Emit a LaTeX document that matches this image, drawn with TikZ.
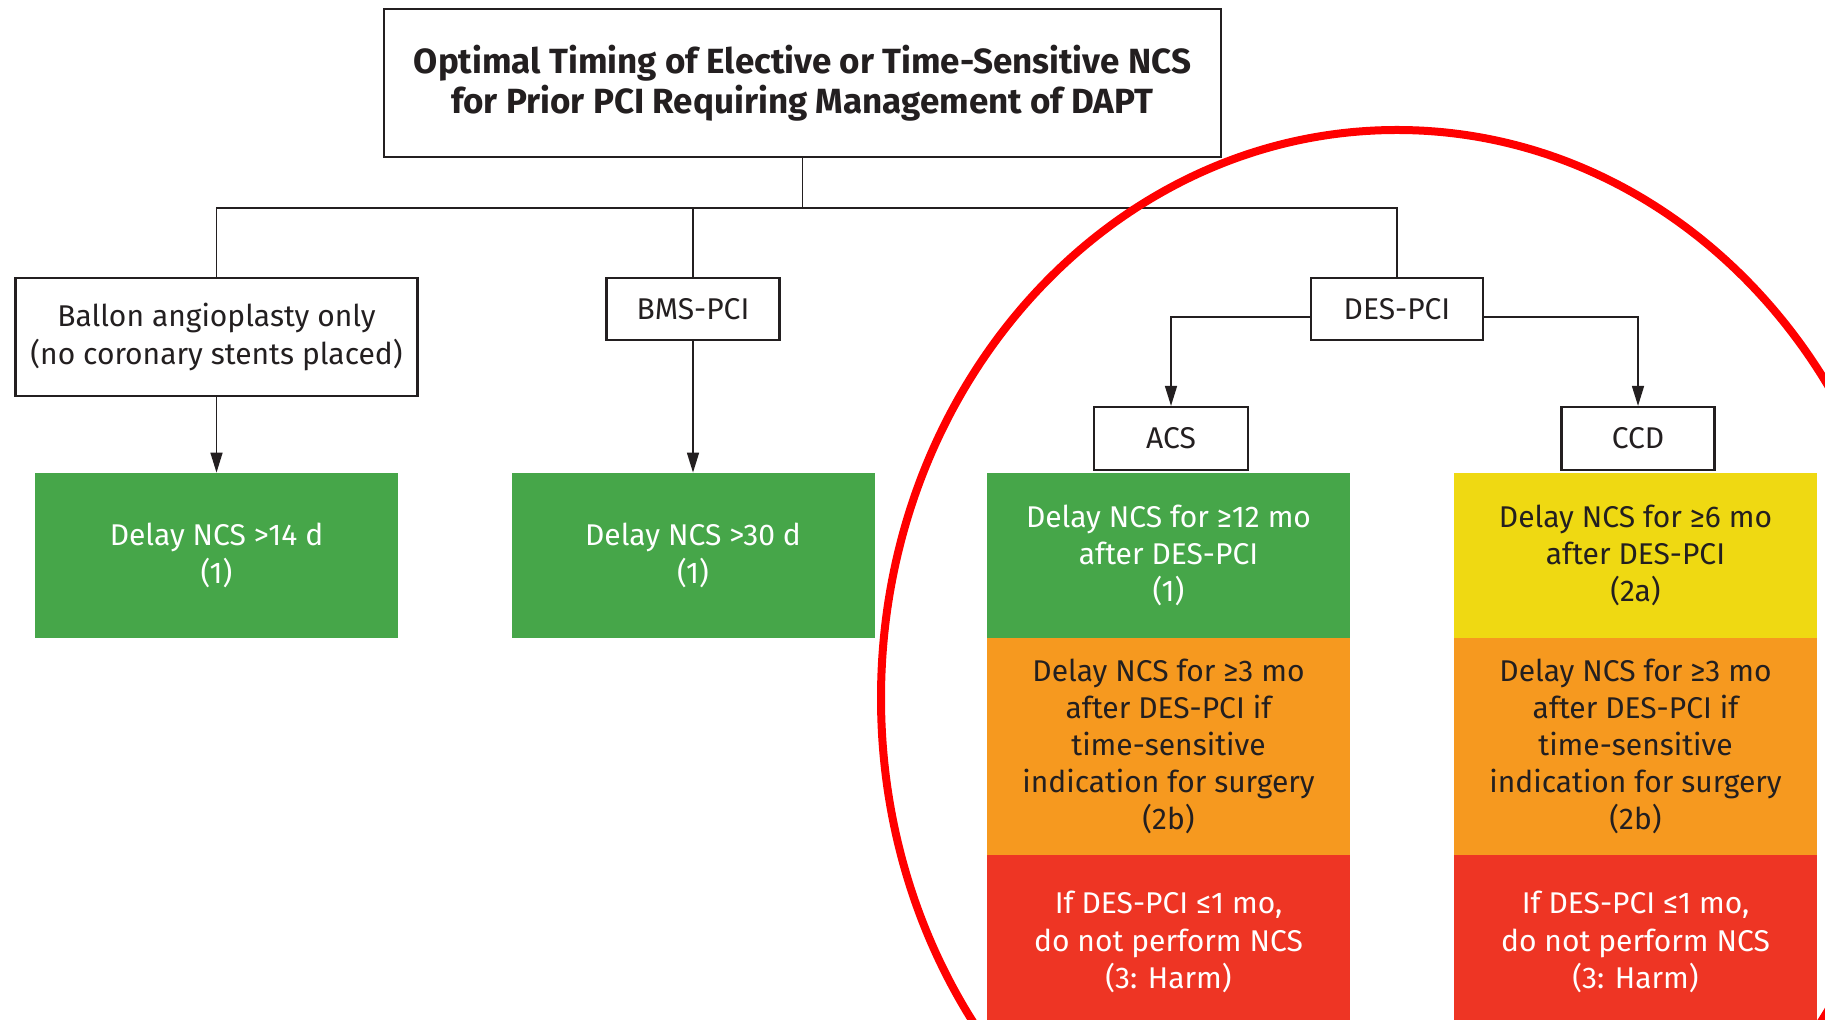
\documentclass[tikz,border=0pt]{standalone}
\usepackage{fontspec}
\setmainfont{Fira Sans}
\usetikzlibrary{arrows.meta}

\definecolor{txt}{HTML}{231F20}
\definecolor{dgreen}{HTML}{46A649}
\definecolor{dyellow}{HTML}{EFD912}
\definecolor{dorange}{HTML}{F6991F}
\definecolor{dred}{HTML}{EE3524}

\tikzset{
    box/.style = {draw = txt, line width = 1.1pt, fill = white, text = txt, align = center, inner sep = 0pt},
    level/.style = {align = center, inner sep = 0pt, minimum width = 181.5pt},
    link/.style = {draw = txt, line width = 0.75pt},
    arr/.style = {link, -{Triangle[length = 10pt, width = 6pt]}}
}

\begin{document}
\begin{tikzpicture}[x = 0.5pt, y = -0.5pt, font = \fontsize{15}{18.6}\selectfont]
            \clip (0,0) rectangle (1825,1020);
            \fill [white] (0,0) rectangle (1825,1020);

            \node [box, minimum width = 418.5pt, minimum height = 74pt,
                font = \fontsize{17.5}{20}\selectfont\bfseries] (title) at (802.5,83)
            {Optimal Timing of Elective or Time-Sensitive NCS\\for Prior PCI Requiring Management of DAPT};

            \node [box, minimum width = 201pt, minimum height = 59pt] (ballon) at (216.5,337)
            {Ballon angioplasty only\\(no coronary stents placed)};
            \node [box, minimum width = 86.5pt, minimum height = 31pt] (bmspci) at (693,309) {BMS-PCI};
            \node [box, minimum width = 86pt, minimum height = 31pt] (despci) at (1397,309) {DES-PCI};
            \node [box, minimum width = 77pt, minimum height = 31.5pt] (acs) at (1171,438.5) {ACS};
            \node [box, minimum width = 76.5pt, minimum height = 31.5pt] (ccd) at (1638,438.5) {CCD};

            \node [level, fill = dgreen, text = white, minimum height = 82.5pt] (balloncs) at (216.5,555.5)
            {Delay NCS >14 d\\(1)};
            \node [level, fill = dgreen, text = white, minimum height = 82.5pt] (bmsncs) at (693,555.5)
            {Delay NCS >30 d\\(1)};

            \node [level, fill = dgreen, text = white, minimum height = 82.5pt] (acsone) at (1168.5,555.5)
            {Delay NCS for ≥12 mo\\after DES-PCI\\(1)};
            \node [level, fill = dorange, text = txt, minimum height = 108.5pt] (acstwo) at (1168.5,746.5)
            {Delay NCS for ≥3 mo\\after DES-PCI if\\time-sensitive\\indication for surgery\\(2b)};
            \node [level, fill = dred, text = white, minimum height = 87pt] (acsthree) at (1168.5,942)
            {If DES-PCI ≤1 mo,\\do not perform NCS\\(3: Harm)};

            \node [level, fill = dyellow, text = txt, minimum height = 82.5pt] (ccdone) at (1635.5,555.5)
            {Delay NCS for ≥6 mo\\after DES-PCI\\(2a)};
            \node [level, fill = dorange, text = txt, minimum height = 108.5pt] (ccdtwo) at (1635.5,746.5)
            {Delay NCS for ≥3 mo\\after DES-PCI if\\time-sensitive\\indication for surgery\\(2b)};
            \node [level, fill = dred, text = white, minimum height = 87pt] (ccdthree) at (1635.5,942)
            {If DES-PCI ≤1 mo,\\do not perform NCS\\(3: Harm)};

            \coordinate (bar) at (802.5,208);
            \draw [link] (title.south) -- (bar);
            \draw [link] (ballon.north) |- (bar) -| (despci.north);
            \draw [link] (bmspci.north) -- (bmspci.north |- bar);

            \draw [arr] (ballon.south) -- (balloncs.north);
            \draw [arr] (bmspci.south) -- (bmsncs.north);
            \draw [arr] ([yshift = -4pt]despci.west) -| (acs.north);
            \draw [arr] ([yshift = -4pt]despci.east) -| (ccd.north);

            \draw [red, line width = 4pt] (1397,698) ellipse [x radius = 258pt, y radius = 284pt];
        \end{tikzpicture}
\end{document}
